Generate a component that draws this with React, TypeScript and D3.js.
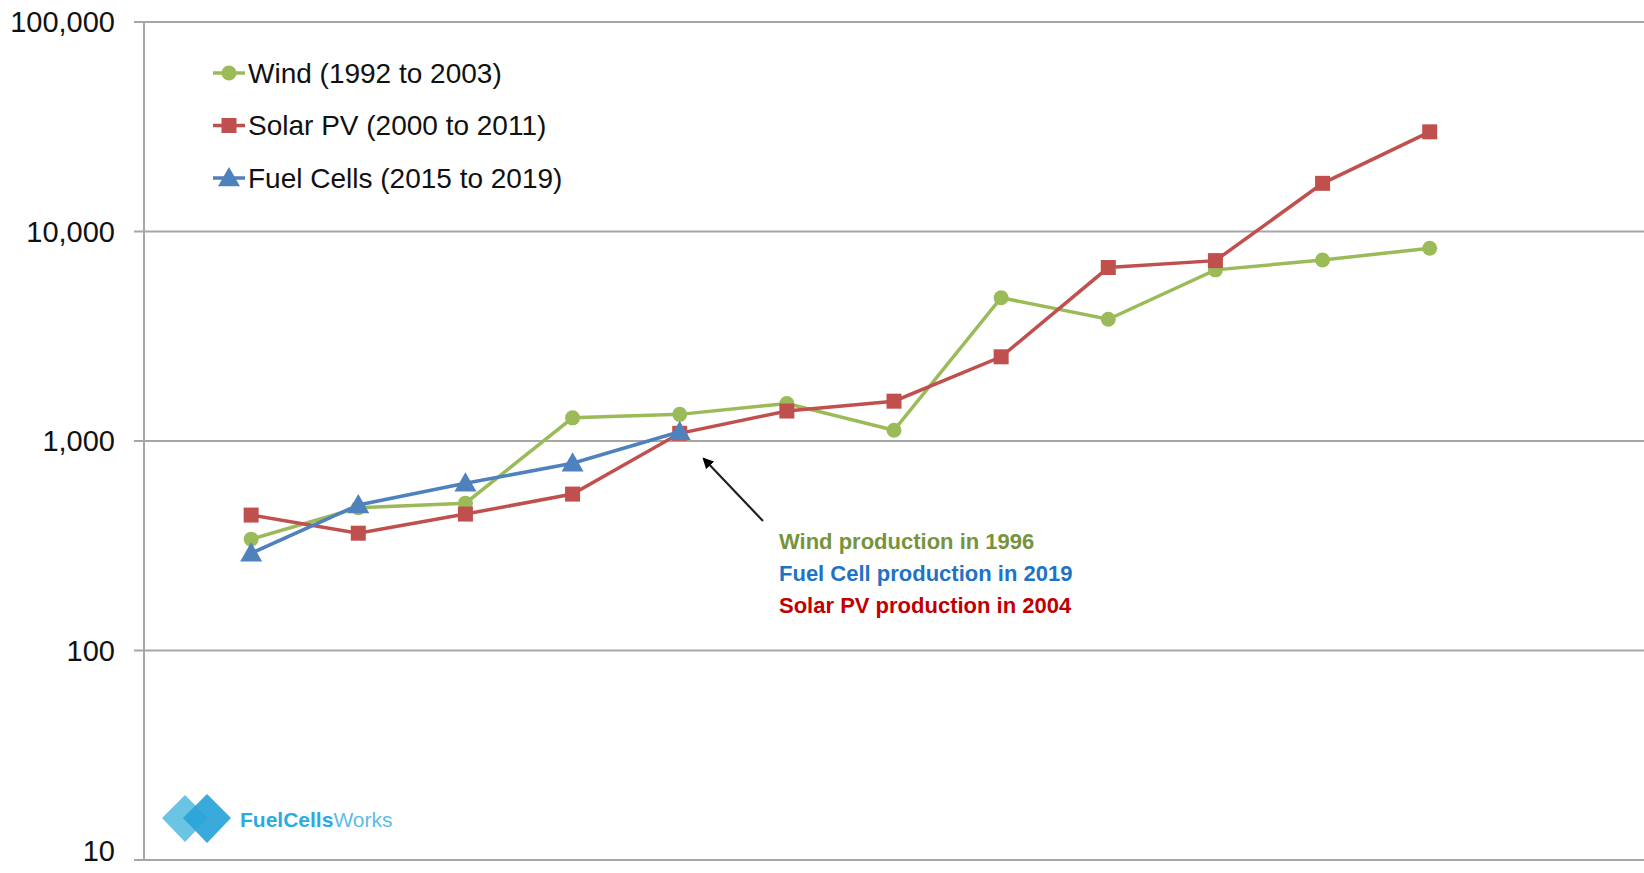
import React from "react";
import * as d3 from "d3";

const W = 1644;
const H = 873;

// x positions are index 1..12 (years in each technology's own run)
const windYears = [1992, 1993, 1994, 1995, 1996, 1997, 1998, 1999, 2000, 2001, 2002, 2003];
const windValues = [340, 480, 505, 1290, 1340, 1510, 1125, 4830, 3810, 6560, 7310, 8320];

const solarYears = [2000, 2001, 2002, 2003, 2004, 2005, 2006, 2007, 2008, 2009, 2010, 2011];
const solarValues = [443, 363, 448, 558, 1088, 1390, 1549, 2523, 6730, 7260, 16980, 29900];

const fuelYears = [2015, 2016, 2017, 2018, 2019];
const fuelValues = [291, 495, 628, 783, 1107];

const yTicks = [10, 100, 1000, 10000, 100000];

const legendLabels = ["Wind (1992 to 2003)", "Solar PV (2000 to 2011)", "Fuel Cells (2015 to 2019)"];
const annotationLines = ["Wind production in 1996", "Fuel Cell production in 2019", "Solar PV production in 2004"];

const GREEN = "#9BBB59";
const RED = "#C0504D";
const BLUE = "#4F81BD";

const FONT = "'Liberation Sans', Arial, sans-serif";

export default function App() {
  const x = d3.scaleLinear().domain([0, 14]).range([144, 1644]);
  const y = d3.scaleLog().domain([10, 100000]).range([860, 22]);
  const fmt = d3.format(",");

  const line = d3
    .line<number>()
    .x((_, i) => x(i + 1))
    .y((d) => y(d));

  const series = [
    { name: legendLabels[0], years: windYears, values: windValues, color: GREEN, marker: "circle" },
    { name: legendLabels[1], years: solarYears, values: solarValues, color: RED, marker: "square" },
    { name: legendLabels[2], years: fuelYears, values: fuelValues, color: BLUE, marker: "triangle" },
  ];

  const marker = (kind: string, cx: number, cy: number, color: string, key?: any) => {
    if (kind === "circle") return <circle key={key} cx={cx} cy={cy} r={7.5} fill={color} />;
    if (kind === "square")
      return <rect key={key} x={cx - 7.5} y={cy - 7.5} width={15} height={15} fill={color} />;
    const s = 11;
    return (
      <path
        key={key}
        d={`M${cx},${cy - s} L${cx + s * 1.0},${cy + s * 0.75} L${cx - s * 1.0},${cy + s * 0.75} Z`}
        fill={color}
      />
    );
  };

  const annColors = ["#77933C", "#1F73C4", "#C00000"];

  return (
    <div style={{ position: "absolute", left: 0, top: 0, background: "#fff" }}>
      <svg width={W} height={H} style={{ display: "block", fontFamily: FONT }}>
        <rect x={0} y={0} width={W} height={H} fill="#fff" />
        {/* gridlines */}
        {yTicks.map((t) => (
          <g key={t}>
            <line x1={134} x2={W} y1={y(t)} y2={y(t)} stroke="#A6A6A6" strokeWidth={2} />
            <text
              x={115}
              y={Math.min(y(t), 851)}
              textAnchor="end"
              dominantBaseline="central"
              fontSize={29}
              fill="#111"
            >
              {fmt(t)}
            </text>
          </g>
        ))}
        {/* y axis line */}
        <line x1={144} x2={144} y1={y(100000)} y2={y(10)} stroke="#A6A6A6" strokeWidth={2} />

        {/* logo */}
        <g>
          <path d="M185,795 L208,818 L185,842 L162,818 Z" fill="#6CC4E5" />
          <path d="M207,794 L231,818 L207,843 L183,818 Z" fill="#29A3D9" opacity={0.92} />
          <text x={240} y={819} dominantBaseline="central" fontSize={21} fill="#29ABE2" fontFamily={FONT}>
            <tspan fontWeight="bold">FuelCells</tspan>
            <tspan fill="#5CBCE4">Works</tspan>
          </text>
        </g>

        {/* series */}
        {series.map((s) => (
          <g key={s.name}>
            <path d={line(s.values) || ""} fill="none" stroke={s.color} strokeWidth={3.5} />
            {s.values.map((v, i) => marker(s.marker, x(i + 1), y(v), s.color, i))}
          </g>
        ))}

        {/* legend */}
        {series.map((s, i) => {
          const cy = 73 + i * 52.5;
          return (
            <g key={"lg" + i}>
              <line x1={213} x2={245} y1={cy} y2={cy} stroke={s.color} strokeWidth={3.5} />
              {marker(s.marker, 229, cy, s.color)}
              <text x={248} y={cy} dominantBaseline="central" fontSize={28} fill="#111">
                {s.name}
              </text>
            </g>
          );
        })}

        {/* annotation arrow */}
        <defs>
          <marker id="arr" viewBox="0 0 10 10" refX={8} refY={5} markerWidth={5} markerHeight={5} orient="auto">
            <path d="M0,0 L10,5 L0,10 Z" fill="#000" />
          </marker>
        </defs>
        <line x1={763} y1={521} x2={704} y2={459} stroke="#222" strokeWidth={2.2} markerEnd="url(#arr)" />
        {annotationLines.map((t, i) => (
          <text
            key={t}
            x={779}
            y={541 + i * 32}
            dominantBaseline="central"
            fontSize={22}
            fontWeight="bold"
            fill={annColors[i]}
          >
            {t}
          </text>
        ))}
      </svg>
    </div>
  );
}
